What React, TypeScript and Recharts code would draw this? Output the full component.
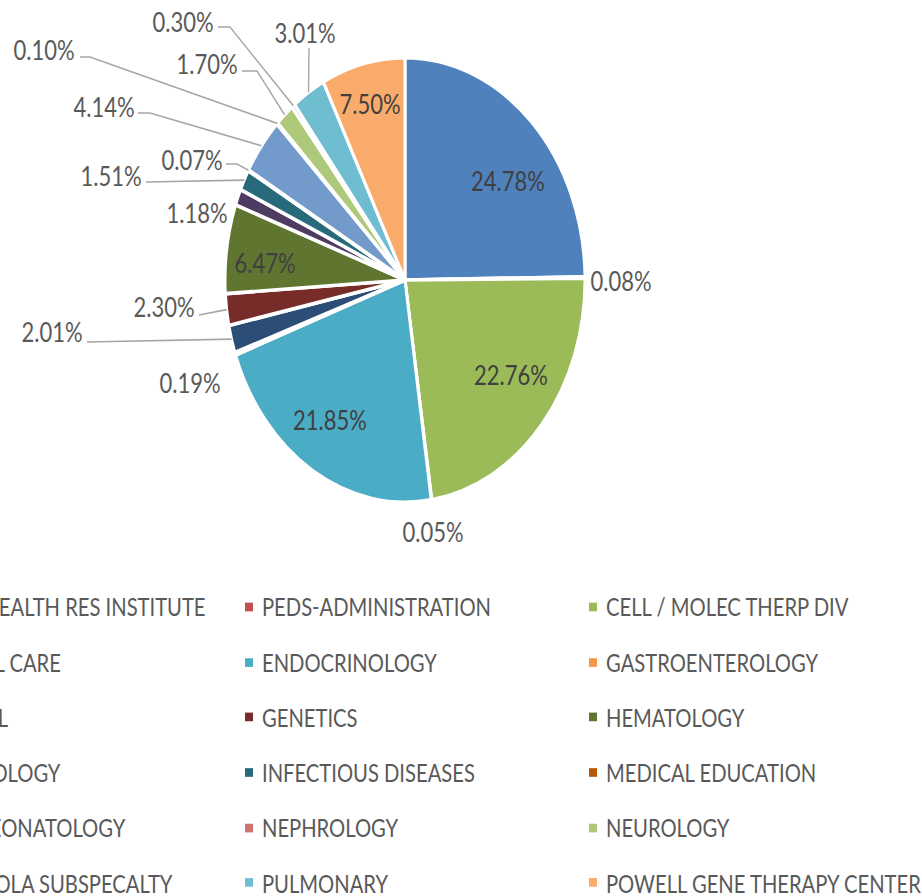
import { PieChart, Pie, Cell, Legend } from "recharts";

// picture is stretched vertically, so draw flat and scale by S
const S = 1.235;
const W = 922;
const H = 896;

const NAMES = [
  "CHILD HEALTH RES INSTITUTE",
  "PEDS-ADMINISTRATION",
  "CELL / MOLEC THERP DIV",
  "CRITICAL CARE",
  "ENDOCRINOLOGY",
  "GASTROENTEROLOGY",
  "GENERAL",
  "GENETICS",
  "HEMATOLOGY",
  "IMMUNOLOGY",
  "INFECTIOUS DISEASES",
  "MEDICAL EDUCATION",
  "MFM-NEONATOLOGY",
  "NEPHROLOGY",
  "NEUROLOGY",
  "PENSACOLA SUBSPECALTY",
  "PULMONARY",
  "POWELL GENE THERAPY CENTER",
];

const SHARES = [
  24.78, 0.08, 22.76, 0.05, 21.85, 0.19, 2.01, 2.3, 6.47, 1.18, 1.51, 0.07, 4.14, 0.1, 1.7, 0.3, 3.01, 7.5,
];

const COLORS = [
  "#4F81BD", "#C0504D", "#9BBB59", "#8064A2", "#4BACC6", "#F79646",
  "#2C4D75", "#772C2A", "#5F7530", "#4D3B62", "#276A7C", "#B65708",
  "#729ACA", "#CD7371", "#AFC97A", "#9983B5", "#6FBDD1", "#F9AB6B",
];

const data = NAMES.map((name, i) => ({ name, value: SHARES[i] }));

// label placement (screen px): text centre, whether inside, elbow points of leader
const LABELS: { x: number; y: number; inside?: boolean; line?: number[][] }[] = [
  { x: 508, y: 181, inside: true },
  { x: 621, y: 281 },
  { x: 511, y: 375, inside: true },
  { x: 433, y: 532 },
  { x: 330, y: 420, inside: true },
  { x: 190, y: 383 },
  { x: 52, y: 332, line: [[87, 342]] },
  { x: 164, y: 307, line: [[199, 315]] },
  { x: 265, y: 263, inside: true },
  { x: 197, y: 213 },
  { x: 111, y: 176, line: [[146, 182]] },
  { x: 192, y: 160, line: [[226, 164], [237, 164]] },
  { x: 104, y: 107, line: [[138, 113], [150, 113]] },
  { x: 44, y: 50, line: [[80, 57], [90, 57]] },
  { x: 207, y: 64, line: [[242, 71], [257, 71]] },
  { x: 183, y: 22, line: [[218, 27], [230, 27]] },
  { x: 305, y: 33, line: [[309, 48]] },
  { x: 370, y: 104, inside: true },
];

const RAD = Math.PI / 180;

function renderLabel(props: any) {
  const i = props.index ?? NAMES.indexOf(props.name);
  const l = LABELS[i];
  if (!l) return null;
  const ex = props.cx + props.outerRadius * Math.cos(-props.midAngle * RAD);
  const ey = props.cy + props.outerRadius * Math.sin(-props.midAngle * RAD);
  const pts = l.line ? [...l.line.map(([x, y]) => [x, y / S]), [ex, ey]] : null;
  return (
    <g key={"lbl" + i}>
      {pts && (
        <polyline
          points={pts.map((p) => p.join(",")).join(" ")}
          fill="none"
          stroke="#A6A6A6"
          strokeWidth={1.4}
        />
      )}
      <text
        x={l.x}
        y={l.y / S}
        textAnchor="middle"
        dominantBaseline="central"
        fontFamily="Lato, sans-serif"
        fontSize={22}
        fill={l.inside ? "#404040" : "#595959"}
      >
        {SHARES[i].toFixed(2)}%
      </text>
    </g>
  );
}

function LegendGrid() {
  return (
    <div
      style={{
        display: "grid",
        gridTemplateColumns: "repeat(3, 344px)",
        gridAutoRows: "44.7px",
        fontFamily: "Lato, sans-serif",
      }}
    >
      {NAMES.map((n, i) => (
        <div key={n} style={{ display: "flex", alignItems: "center" }}>
          <span style={{ width: 8, height: 7, background: COLORS[i], marginRight: 9, flex: "none" }} />
          <span style={{ fontSize: 20.2, color: "#595959", whiteSpace: "nowrap", lineHeight: 1 }}>{n}</span>
        </div>
      ))}
    </div>
  );
}

export default function App() {
  return (
    <div
      style={{
        position: "absolute",
        left: 0,
        top: 0,
        width: W,
        height: H,
        overflow: "hidden",
        background: "#fff",
      }}
    >
      <div style={{ transform: `scale(1, ${S})`, transformOrigin: "0 0", width: W, height: H / S }}>
        <PieChart width={W} height={Math.round(H / S)} margin={{ top: 0, right: 0, bottom: 0, left: 0 }}>
          <Pie
            data={data}
            dataKey="value"
            nameKey="name"
            cx={405}
            cy={280 / S}
            outerRadius={180}
            startAngle={90}
            endAngle={-270}
            stroke="#FFFFFF"
            strokeWidth={3}
            label={renderLabel}
            labelLine={false}
            isAnimationActive={false}
          >
            {data.map((d, i) => (
              <Cell key={d.name} fill={COLORS[i]} />
            ))}
          </Pie>
          <Legend
            content={() => <LegendGrid />}
            wrapperStyle={{ left: -99, top: 469, width: 1032, height: 270 }}
          />
        </PieChart>
      </div>
    </div>
  );
}
